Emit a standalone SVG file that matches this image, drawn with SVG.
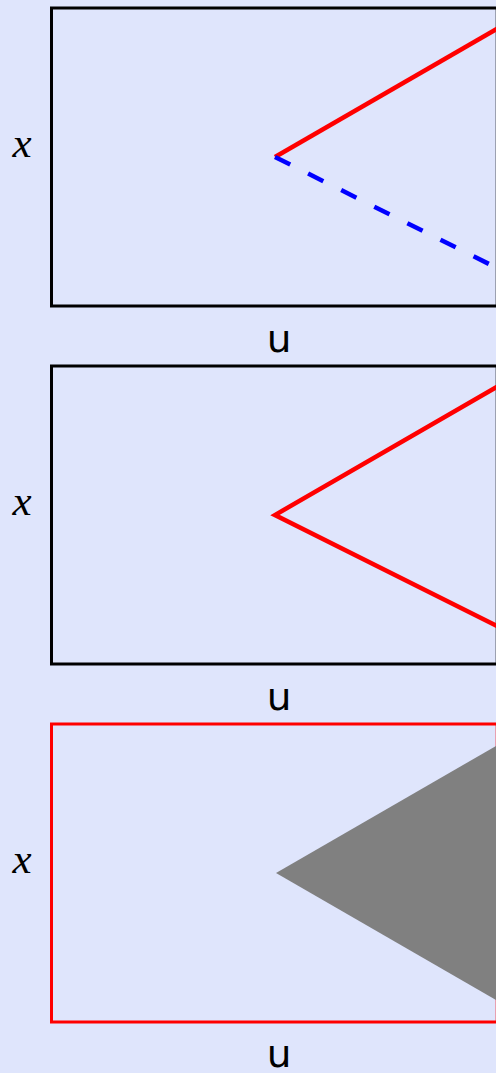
<svg xmlns="http://www.w3.org/2000/svg" width="496" height="1073" viewBox="0 0 496 1073">
<style>
.frame{fill:none;stroke:#000;stroke-width:3}
.frame-red{fill:none;stroke:#ff0000;stroke-width:3}
.red{fill:none;stroke:#ff0000;stroke-width:4.5}
.blue{fill:none;stroke:#0000ff;stroke-width:4.5;stroke-dasharray:17 20}
.tri{fill:#808080;stroke:none}
.xl{font-family:"Liberation Serif",serif;font-style:italic;font-size:43px;fill:#000;text-anchor:middle}
.ul{font-family:"DejaVu Sans",sans-serif;font-size:39px;fill:#000;text-anchor:middle}
</style>
<rect x="0" y="0" width="496" height="1073" fill="#dfe5fc"/>
<g id="panel1">
<rect class="frame" x="51.5" y="8" width="445.7" height="298"/>
<text class="xl" x="22" y="157">x</text>
<text class="ul" x="279" y="352">u</text>
</g>
<g id="panel2">
<rect class="frame" x="51.5" y="366" width="445.7" height="298"/>
<text class="xl" x="22" y="515">x</text>
<text class="ul" x="279" y="710">u</text>
</g>
<g id="panel3">
<rect class="frame-red" x="51.5" y="724" width="445.7" height="298"/>
<polygon class="tri" points="276,873 520,732.1 520,1013.9"/>
<text class="xl" x="22" y="873">x</text>
<text class="ul" x="279" y="1067">u</text>
</g>
<g id="connectors">
<polyline class="red" points="520,15.6 275,157"/>
<polyline class="blue" points="275,157 520,279.5"/>
<polyline class="red" points="520,373.6 275,515 520,637.5"/>
</g>
</svg>
